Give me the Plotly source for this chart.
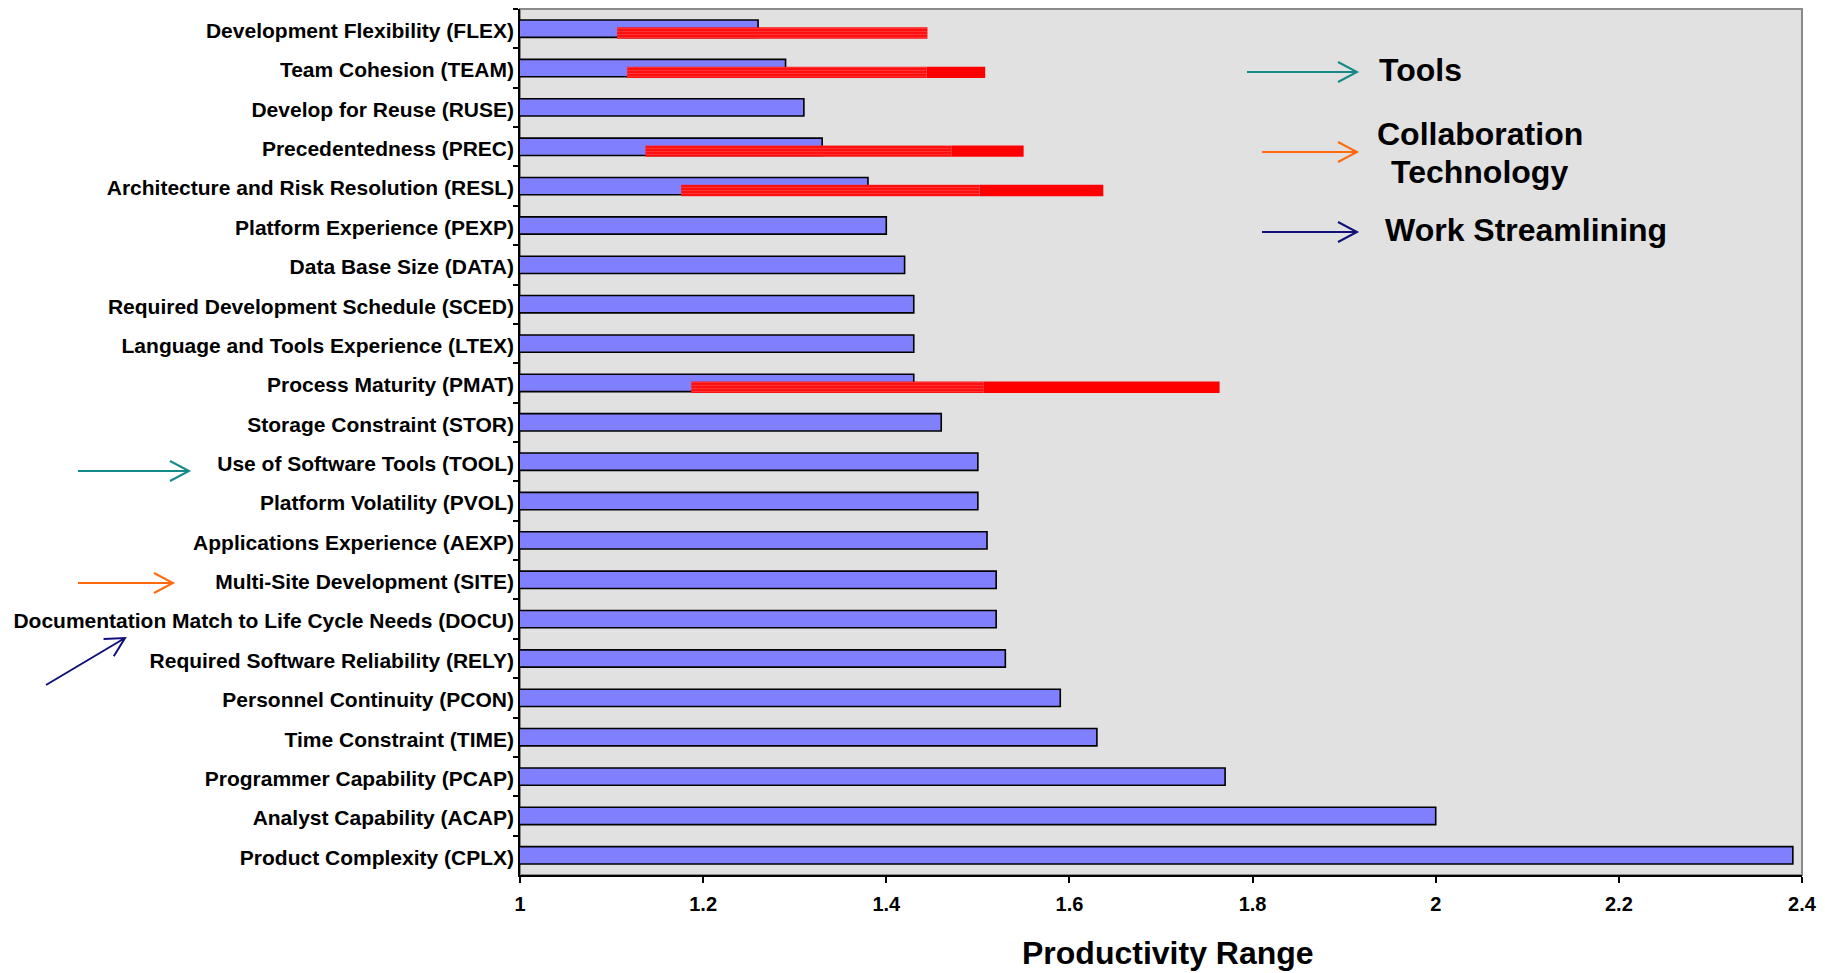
import plotly.graph_objects as go

# ---------------- data ----------------
categories = [
    "Development Flexibility (FLEX)",
    "Team Cohesion (TEAM)",
    "Develop for Reuse (RUSE)",
    "Precedentedness (PREC)",
    "Architecture and Risk Resolution (RESL)",
    "Platform Experience (PEXP)",
    "Data Base Size (DATA)",
    "Required Development Schedule (SCED)",
    "Language and Tools Experience (LTEX)",
    "Process Maturity (PMAT)",
    "Storage Constraint (STOR)",
    "Use of Software Tools (TOOL)",
    "Platform Volatility (PVOL)",
    "Applications Experience (AEXP)",
    "Multi-Site Development (SITE)",
    "Documentation Match to Life Cycle Needs (DOCU)",
    "Required Software Reliability (RELY)",
    "Personnel Continuity (PCON)",
    "Time Constraint (TIME)",
    "Programmer Capability (PCAP)",
    "Analyst Capability (ACAP)",
    "Product Complexity (CPLX)",
]
productivity_range = [1.26, 1.29, 1.31, 1.33, 1.38, 1.40, 1.42, 1.43, 1.43, 1.43, 1.46,
                      1.50, 1.50, 1.51, 1.52, 1.52, 1.53, 1.59, 1.63, 1.77, 2.00, 2.39]

# red highlighter marks: category, start, end of streaked part, end of solid part
red_categories = [
    "Development Flexibility (FLEX)",
    "Team Cohesion (TEAM)",
    "Precedentedness (PREC)",
    "Architecture and Risk Resolution (RESL)",
    "Process Maturity (PMAT)",
]
red_start = [1.106, 1.117, 1.137, 1.176, 1.187]
red_streak_end = [1.445, 1.444, 1.471, 1.502, 1.506]
red_end = [1.445, 1.508, 1.550, 1.637, 1.764]

x_ticks = [1, 1.2, 1.4, 1.6, 1.8, 2, 2.2, 2.4]
x_tick_text = ["1", "1.2", "1.4", "1.6", "1.8", "2", "2.2", "2.4"]
x_title = "Productivity Range"

# ---------------- layout constants ----------------
W, H = 1825, 973
ML, MR, MT, MB = 520, 23, 9, 98
PW, PH = W - ML - MR, H - MT - MB
FONT = "Liberation Sans, Arial, sans-serif"


def px_to_paper(px, py):
    return (px - ML) / PW, (H - MB - py) / PH


fig = go.Figure()

fig.add_trace(go.Bar(
    y=categories, x=productivity_range, orientation="h",
    width=0.44,
    marker=dict(color="#8080FF", line=dict(color="black", width=1.6)),
    showlegend=False, hoverinfo="x+y",
))

fig.add_trace(go.Bar(
    y=red_categories,
    base=red_start,
    x=[e - s for s, e in zip(red_start, red_streak_end)],
    orientation="h", width=0.29, offset=-0.035,
    marker=dict(color="#FF1414", line=dict(width=0),
                pattern=dict(shape="-", fgcolor="#FF4A4A", bgcolor="#FF1010",
                             size=3, solidity=0.2, fillmode="replace")),
    showlegend=False,
))

fig.add_trace(go.Bar(
    y=red_categories,
    base=red_streak_end,
    x=[e - s for s, e in zip(red_streak_end, red_end)],
    orientation="h", width=0.29, offset=-0.035,
    marker=dict(color="#FF0000", line=dict(width=0)),
    showlegend=False,
))

fig.update_layout(
    width=W, height=H,
    margin=dict(l=ML, r=MR, t=MT, b=MB, pad=0, autoexpand=False),
    paper_bgcolor="white",
    plot_bgcolor="#E1E1E1",
    barmode="overlay",
    font=dict(family=FONT, color="black"),
    xaxis=dict(
        range=[1, 2.4], tickvals=x_ticks, ticktext=x_tick_text,
        automargin=False,
        showgrid=False, zeroline=False,
        showline=True, linecolor="black", linewidth=1.6,
        ticks="outside", ticklen=6, tickwidth=1.5, tickcolor="black",
        tickfont=dict(size=20, family=FONT, weight="bold"),
        ticklabelstandoff=4,
    ),
    yaxis=dict(
        categoryorder="array", categoryarray=categories,
        autorange="reversed",
        automargin=False,
        showgrid=False, zeroline=False,
        showline=True, linecolor="black", linewidth=1.6,
        ticks="outside", ticklen=5, tickwidth=1.5, tickcolor="black",
        tickson="boundaries",
        ticklabelshift=-2,
        tickfont=dict(size=21, family=FONT, weight="bold"),
    ),
)

shapes = []
# plot frame: gray top/right border
shapes.append(dict(type="rect", xref="paper", yref="paper", x0=0, y0=0, x1=1, y1=1,
                   line=dict(color="#8A8A8A", width=2), fillcolor="rgba(0,0,0,0)",
                   layer="below"))


def arrow(x0, y0, x1, y1, color, head_len=19, head_half=10, width=2):
    import math
    dx, dy = x1 - x0, y1 - y0
    L = math.hypot(dx, dy)
    ux, uy = dx / L, dy / L
    nx, ny = -uy, ux
    bx, by = x1 - ux * head_len, y1 - uy * head_len
    h1 = (bx + nx * head_half, by + ny * head_half)
    h2 = (bx - nx * head_half, by - ny * head_half)
    pts = [px_to_paper(x0, y0), px_to_paper(x1, y1), px_to_paper(*h1), px_to_paper(*h2)]
    (a, b), (c, d), (e, f), (g, h) = pts
    path = f"M {a},{b} L {c},{d} M {e},{f} L {c},{d} L {g},{h}"
    return dict(type="path", xref="paper", yref="paper", path=path,
                line=dict(color=color, width=width), layer="above")


TEAL, ORANGE, NAVY = "#128A8A", "#FF6A10", "#10107A"
shapes += [
    arrow(1247, 72, 1357, 72, TEAL),
    arrow(1262, 152, 1357, 152, ORANGE),
    arrow(1262, 232, 1357, 232, NAVY),
    arrow(78, 471, 189, 471, TEAL),
    arrow(78, 583, 173, 583, ORANGE),
    arrow(46, 685, 125, 638, NAVY),
]
fig.update_layout(shapes=shapes)

annots = []


def label(text, px, py, xanchor="left", size=32):
    x, y = px_to_paper(px, py)
    return dict(text=text, x=x, y=y, xref="paper", yref="paper",
                xanchor=xanchor, yanchor="middle", showarrow=False,
                font=dict(size=size, family=FONT, color="black", weight="bold"))


annots += [
    label("Tools", 1377, 70),
    label("Collaboration", 1480, 134, "center"),
    label("Technology", 1479, 172, "center"),
    label("Work Streamlining", 1383, 230),
    label(x_title, 1168, 953, "center", 32),
]
fig.update_layout(annotations=annots)

fig.write_html("out.html")
